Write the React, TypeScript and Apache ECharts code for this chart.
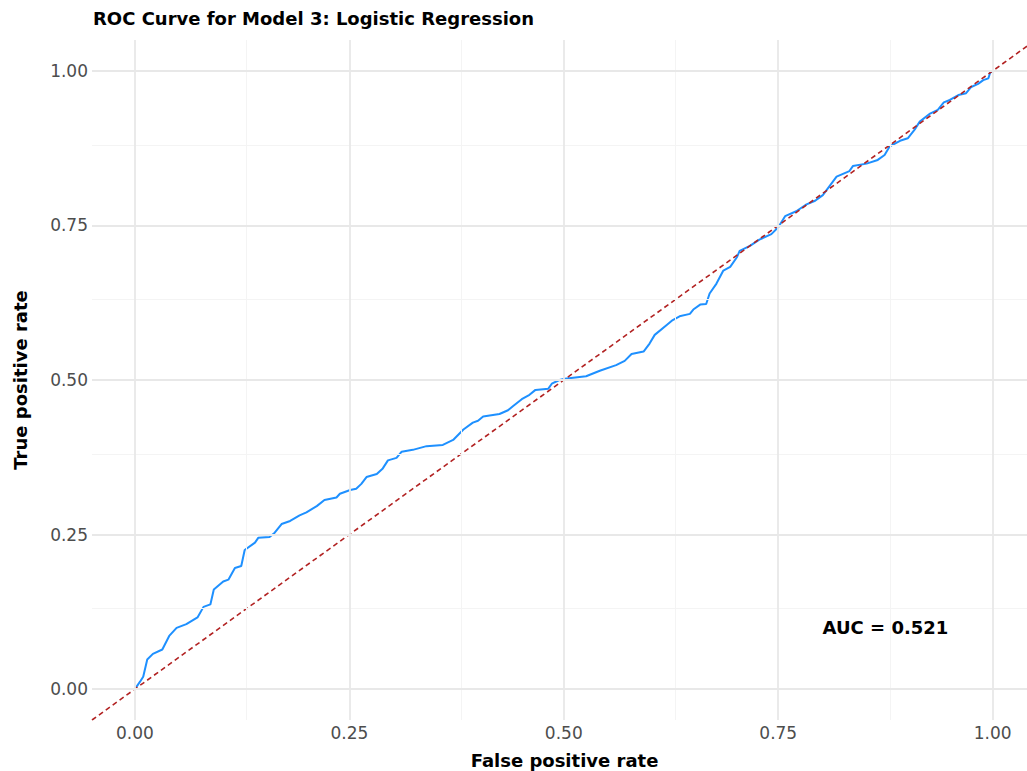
import React, { useEffect, useRef } from "react";
import * as echarts from "echarts";

const fpr = [
  0, 0.006, 0.0097, 0.0144, 0.021, 0.032, 0.04, 0.0486, 0.06, 0.073, 0.08, 0.088, 0.092, 0.103, 0.109,
  0.1166, 0.124, 0.128, 0.14, 0.144, 0.157, 0.163, 0.171, 0.181, 0.192, 0.2, 0.212, 0.221, 0.235, 0.239,
  0.251, 0.258, 0.264, 0.27, 0.282, 0.289, 0.295, 0.305, 0.311, 0.324, 0.34, 0.359, 0.371, 0.383, 0.394,
  0.4, 0.406, 0.425, 0.435, 0.441, 0.451, 0.46, 0.467, 0.482, 0.486, 0.495, 0.501, 0.526, 0.542, 0.561,
  0.571, 0.579, 0.593, 0.6, 0.606, 0.62, 0.627, 0.635, 0.647, 0.651, 0.659, 0.666, 0.67, 0.678, 0.686,
  0.694, 0.702, 0.705, 0.717, 0.728, 0.742, 0.75, 0.758, 0.771, 0.783, 0.793, 0.802, 0.81, 0.818, 0.833,
  0.837, 0.853, 0.866, 0.874, 0.88, 0.892, 0.901, 0.909, 0.915, 0.927, 0.936, 0.943, 0.95, 0.96, 0.969,
  0.975, 0.983, 0.989, 0.995, 0.997, 1,
];
const tpr = [
  0, 0.012, 0.02, 0.048, 0.057, 0.064, 0.086, 0.099, 0.105, 0.116, 0.133, 0.137, 0.161, 0.174, 0.177,
  0.196, 0.199, 0.225, 0.237, 0.245, 0.246, 0.253, 0.267, 0.272, 0.281, 0.286, 0.296, 0.306, 0.31, 0.316,
  0.322, 0.324, 0.332, 0.343, 0.348, 0.357, 0.37, 0.374, 0.384, 0.387, 0.393, 0.395, 0.403, 0.42, 0.431,
  0.434, 0.441, 0.445, 0.451, 0.458, 0.469, 0.476, 0.484, 0.486, 0.494, 0.5, 0.502, 0.506, 0.515, 0.524,
  0.531, 0.542, 0.546, 0.559, 0.573, 0.589, 0.597, 0.603, 0.607, 0.614, 0.622, 0.623, 0.64, 0.656, 0.677,
  0.683, 0.699, 0.709, 0.717, 0.727, 0.736, 0.747, 0.765, 0.773, 0.784, 0.79, 0.799, 0.814, 0.829, 0.838,
  0.846, 0.85, 0.856, 0.864, 0.878, 0.887, 0.891, 0.905, 0.918, 0.931, 0.937, 0.949, 0.953, 0.961, 0.964,
  0.974, 0.979, 0.985, 0.988, 0.997, 1,
];

const majorTicks = [0, 0.25, 0.5, 0.75, 1];
const minorTicks = [0.125, 0.375, 0.625, 0.875];
const tickLabels = ["0.00", "0.25", "0.50", "0.75", "1.00"];
const xRange = [-0.05, 1.04];
const yRange = [-0.05, 1.05];
const aucLabel = "AUC = 0.521";
const aucPos = [0.875, 0.1];

const titleText = "ROC Curve for Model 3: Logistic Regression";
const xTitle = "False positive rate";
const yTitle = "True positive rate";

export default function App() {
  const ref = useRef<HTMLDivElement>(null);
  useEffect(() => {
    if (!ref.current) return;
    const chart = echarts.init(ref.current, undefined, { renderer: "svg" });
    const font = "DejaVu Sans";
    const labelFmt = (v: number) => {
      const i = majorTicks.findIndex((t) => Math.abs(t - v) < 1e-9);
      return i >= 0 ? tickLabels[i] : "";
    };
    const gridLines = [
      ...minorTicks.map((v) => ({ xAxis: v, lineStyle: { color: "#F4F4F4", width: 1, type: "solid" } })),
      ...minorTicks.map((v) => ({ yAxis: v, lineStyle: { color: "#F4F4F4", width: 1, type: "solid" } })),
      ...majorTicks.map((v) => ({ xAxis: v, lineStyle: { color: "#E8E8E8", width: 1.8, type: "solid" } })),
      ...majorTicks.map((v) => ({ yAxis: v, lineStyle: { color: "#E8E8E8", width: 1.8, type: "solid" } })),
    ];
    chart.setOption({
      animation: false,
      backgroundColor: "#FFFFFF",
      grid: { left: 92, right: 0, top: 40, bottom: 51, containLabel: false },
      xAxis: {
        type: "value",
        min: xRange[0],
        max: xRange[1],
        axisLine: { show: false },
        axisTick: { show: false },
        splitLine: { show: false },
        axisLabel: {
          customValues: majorTicks,
          formatter: labelFmt,
          color: "#4D4D4D",
          fontFamily: font,
          fontSize: 17,
          margin: 4,
        },
      },
      yAxis: {
        type: "value",
        min: yRange[0],
        max: yRange[1],
        axisLine: { show: false },
        axisTick: { show: false },
        splitLine: { show: false },
        axisLabel: {
          customValues: majorTicks,
          formatter: labelFmt,
          color: "#4D4D4D",
          fontFamily: font,
          fontSize: 17,
          margin: 4,
        },
      },
      graphic: [
        {
          type: "text",
          left: 93,
          top: 9,
          style: { text: titleText, fontFamily: font, fontWeight: "bold", fontSize: 18, fill: "#000" },
        },
        {
          type: "text",
          x: 564.5,
          y: 760,
          style: {
            text: xTitle,
            fontFamily: font,
            fontWeight: "bold",
            fontSize: 18,
            fill: "#000",
            align: "center",
            verticalAlign: "middle",
          },
        },
        {
          type: "text",
          x: 20,
          y: 380,
          rotation: Math.PI / 2,
          style: {
            text: yTitle,
            fontFamily: font,
            fontWeight: "bold",
            fontSize: 18,
            fill: "#000",
            align: "center",
            verticalAlign: "middle",
          },
        },
      ],
      series: [
        {
          type: "line",
          name: "grid",
          data: [],
          silent: true,
          markLine: {
            silent: true,
            symbol: ["none", "none"],
            label: { show: false },
            data: gridLines,
          },
          z: 0,
        },
        {
          type: "line",
          name: "roc",
          data: fpr.map((x, i) => [x, tpr[i]]),
          showSymbol: false,
          symbol: "none",
          lineStyle: { color: "#1E90FF", width: 2 },
          z: 3,
        },
        {
          type: "line",
          name: "abline",
          data: [
            [xRange[0], xRange[0]],
            [xRange[1], xRange[1]],
          ],
          showSymbol: false,
          symbol: "none",
          lineStyle: { color: "#B22222", width: 1.6, type: [5, 3.5] },
          z: 4,
        },
        {
          type: "scatter",
          name: "auc",
          data: [aucPos],
          symbolSize: 0,
          silent: true,
          itemStyle: { opacity: 1 },
          label: {
            show: true,
            position: "inside",
            formatter: aucLabel,
            fontFamily: font,
            fontWeight: "bold",
            fontSize: 18,
            color: "#000000",
            opacity: 1,
            textBorderWidth: 0,
            textBorderColor: "transparent",
          },
          z: 5,
        },
      ],
    });
    return () => chart.dispose();
  }, []);
  return (
    <div
      ref={ref}
      style={{ position: "fixed", left: 0, top: 0, width: 1027, height: 771 }}
    />
  );
}
